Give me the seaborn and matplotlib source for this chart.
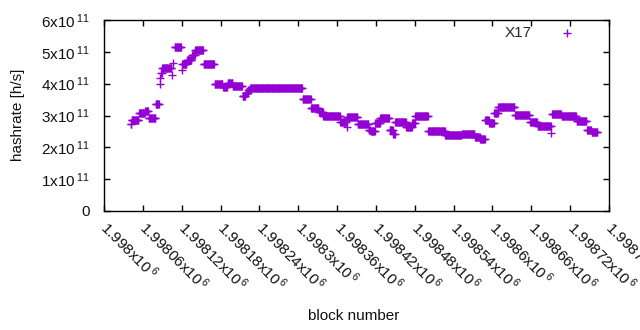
import numpy as np
import pandas as pd
import matplotlib
matplotlib.use("Agg")
import matplotlib.pyplot as plt
import seaborn as sns

# Runs of constant hashrate: block offset from 1998000 (start, end), value in 1e11 h/s
run_start = [41, 43, 54, 64, 69, 80, 86, 87, 88, 90, 105, 106, 109, 120, 121, 128, 136, 141,
             154, 171, 184, 191, 199, 214, 219, 223, 226, 307, 320, 332, 339, 365, 375, 376,
             392, 409, 412, 419, 427, 441, 447, 450, 467, 476, 481, 501, 527, 539, 553, 573,
             581, 589, 595, 603, 609, 635, 658, 670, 691, 692, 707, 730, 746, 753]
run_end = [42, 53, 63, 68, 79, 85, 86, 87, 89, 104, 105, 106, 119, 120, 127, 135, 140, 153,
           170, 183, 190, 198, 213, 218, 222, 225, 306, 319, 331, 338, 364, 374, 375, 391,
           408, 411, 418, 426, 440, 446, 449, 466, 475, 480, 500, 526, 538, 552, 572, 580,
           588, 594, 602, 608, 634, 657, 669, 690, 691, 706, 729, 745, 752, 762]
run_value = [2.74, 2.85, 3.07, 3.15, 2.92, 3.35, 3.98, 4.19, 4.35, 4.48, 4.27, 4.65, 5.15, 4.43,
             4.62, 4.75, 4.9, 5.05, 4.62, 3.98, 3.9, 4.02, 3.93, 3.6, 3.72, 3.8, 3.85, 3.53,
             3.22, 3.12, 3.0, 2.81, 2.65, 2.95, 2.72, 2.55, 2.5, 2.75, 2.92, 2.55, 2.42, 2.8,
             2.65, 2.78, 3.0, 2.5, 2.4, 2.38, 2.42, 2.33, 2.25, 2.85, 2.75, 3.07, 3.27, 3.03,
             2.8, 2.67, 2.45, 3.05, 3.0, 2.84, 2.53, 2.47]

base_block = 1998000
x_ticks = [1998000 + 60 * i for i in range(14)]
y_ticks = [0, 1e11, 2e11, 3e11, 4e11, 5e11, 6e11]

blocks, rates = [], []
for s, e, v in zip(run_start, run_end, run_value):
    for b in range(s, e + 1):
        blocks.append(base_block + b)
        rates.append(v * 1e11)
df = pd.DataFrame({"block": blocks, "hashrate": rates})

sns.set_theme(style="white")
plt.rcParams['font.family'] = ['Liberation Sans', 'DejaVu Sans']
plt.rcParams['mathtext.fontset'] = 'custom'
plt.rcParams['mathtext.rm'] = 'Liberation Sans'
plt.rcParams['mathtext.it'] = 'Liberation Sans'

color = "#9400D3"
fig = plt.figure(figsize=(6.4, 3.3), dpi=100)
ax = fig.add_axes([104/640, 1 - 211/330, (609-104)/640, (211-20)/330])

sns.scatterplot(data=df, x="block", y="hashrate", marker="+", s=32, color=color,
                linewidth=1.0, ax=ax, label="X17")

ax.set_xlim(1998000, 1998780)
ax.set_ylim(0, 6e11)
ax.set_xticks(x_ticks)
ax.set_yticks(y_ticks)

def xfmt(v):
    return "%gx10$\\,^{6}$" % (v / 1e6)

def yfmt(v):
    if v == 0:
        return "0"
    return "%dx10$\\,^{11}$" % round(v / 1e11)

ax.set_xticklabels([xfmt(v) for v in x_ticks], rotation=-45, ha="left", va="center",
                   rotation_mode="anchor", fontsize=11, color="#111111")
ax.set_yticklabels([yfmt(v) for v in y_ticks], fontsize=11, color="#111111")

for sp in ax.spines.values():
    sp.set_color("black")
    sp.set_linewidth(1.0)
ax.tick_params(axis="both", direction="in", length=4, width=1, color="black",
               top=True, right=True, bottom=True, left=True)
ax.tick_params(axis="x", pad=10)
ax.tick_params(axis="y", pad=10)

ax.set_xlabel("")
ax.set_ylabel("")
fig.text(354/640, 1 - 316/330, "block number", ha="center", va="center", fontsize=11,
         color="#111111")
fig.text(18/640, 1 - 115/330, "hashrate [h/s]", ha="center", va="center", rotation=90,
         fontsize=11, color="#111111")

leg = ax.legend(loc="upper right", bbox_to_anchor=(0.96, 1.026), frameon=False,
                markerfirst=False, fontsize=11, handletextpad=1.55, borderaxespad=0.3,
                handlelength=1.5)

fig.savefig("out.png", dpi=100)
